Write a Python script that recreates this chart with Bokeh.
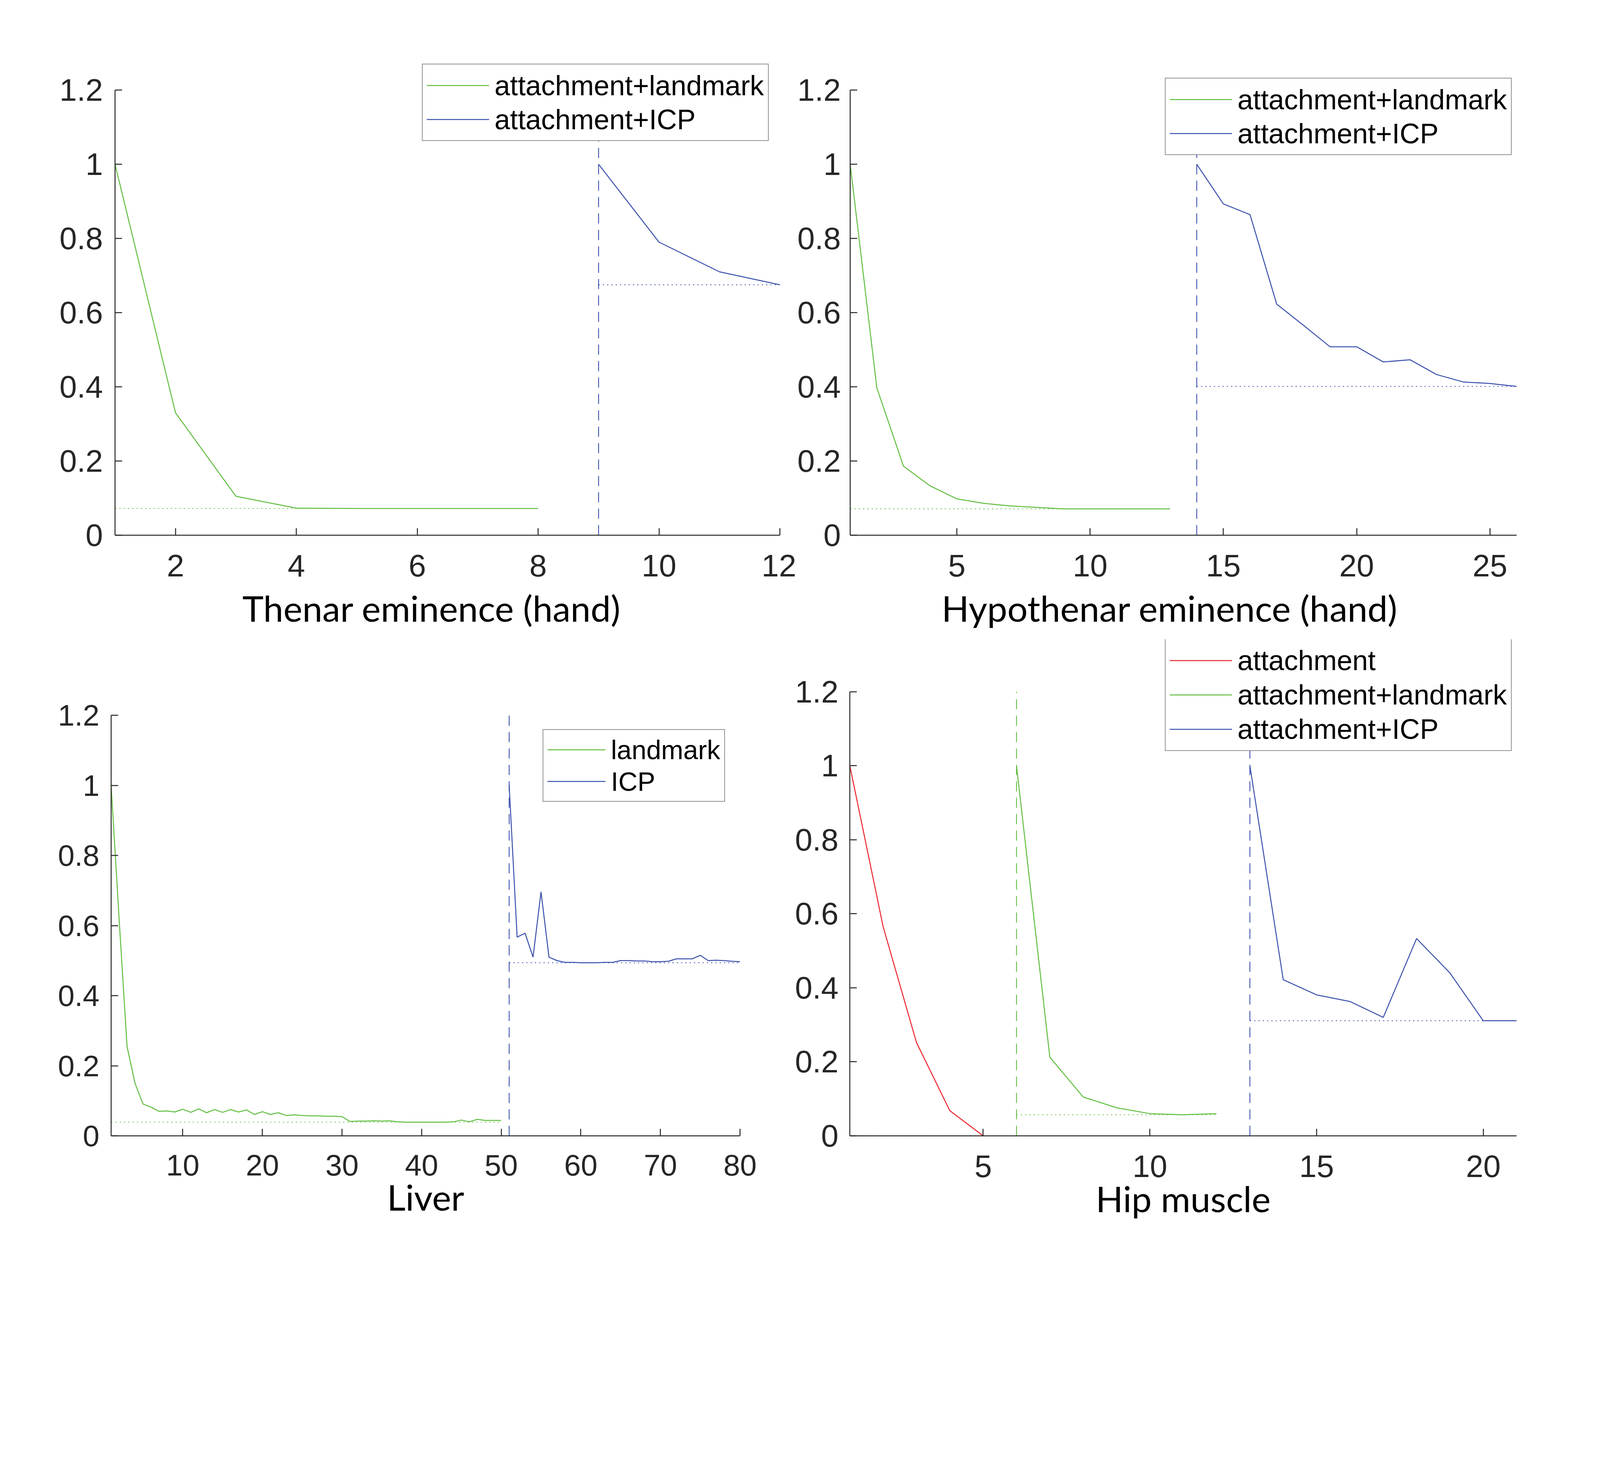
from bokeh.plotting import figure
from bokeh.models import Range1d, FixedTicker, Legend, LegendItem, Title
from bokeh.layouts import column, row
from bokeh.embed import file_html
from bokeh.resources import INLINE

GREEN = "#5fbd3e"
BLUE = "#3a4fad"
RED = "#ec2229"
AX = "#262626"

# ---------------- data ----------------
y_ticks = [0, 0.2, 0.4, 0.6, 0.8, 1, 1.2]
y_tick_labels = ["0", "0.2", "0.4", "0.6", "0.8", "1", "1.2"]

# Thenar eminence (hand)
thenar_x_ticks = [2, 4, 6, 8, 10, 12]
thenar_landmark_start = 1
thenar_landmark = [1.0, 0.33, 0.105, 0.073, 0.072, 0.072, 0.072, 0.072]
thenar_icp_start = 9
thenar_icp = [1.0, 0.79, 0.71, 0.675]

# Hypothenar eminence (hand)
hypo_x_ticks = [5, 10, 15, 20, 25]
hypo_landmark_start = 1
hypo_landmark = [1.0, 0.397, 0.186, 0.133, 0.098, 0.086, 0.079, 0.075,
                 0.071, 0.071, 0.071, 0.071, 0.071]
hypo_icp_start = 14
hypo_icp = [1.0, 0.893, 0.864, 0.623, 0.566, 0.508, 0.508, 0.467, 0.473,
            0.433, 0.413, 0.409, 0.401]

# Liver
liver_x_ticks = [10, 20, 30, 40, 50, 60, 70, 80]
liver_landmark_start = 1
liver_landmark = [1.0, 0.62, 0.255, 0.15, 0.091, 0.082, 0.070, 0.071, 0.068, 0.076,
                  0.067, 0.077, 0.066, 0.075, 0.067, 0.075, 0.068, 0.074, 0.061, 0.069,
                  0.061, 0.066, 0.058, 0.060, 0.058, 0.057, 0.057, 0.056, 0.056, 0.055,
                  0.041, 0.042, 0.042, 0.043, 0.042, 0.043, 0.040, 0.039, 0.039, 0.039,
                  0.039, 0.039, 0.039, 0.040, 0.045, 0.040, 0.047, 0.044, 0.044, 0.044]
liver_icp_start = 51
liver_icp = [1.0, 0.567, 0.578, 0.51, 0.696, 0.51, 0.50, 0.495, 0.495, 0.494,
             0.494, 0.494, 0.495, 0.495, 0.50, 0.50, 0.499, 0.499, 0.497, 0.497,
             0.498, 0.505, 0.505, 0.505, 0.515, 0.50, 0.501, 0.50, 0.498, 0.497]

# Hip muscle
hip_x_ticks = [5, 10, 15, 20]
hip_attach_start = 1
hip_attach = [1.0, 0.565, 0.252, 0.068, 0.0]
hip_landmark_start = 6
hip_landmark = [1.0, 0.2125, 0.105, 0.076, 0.060, 0.057, 0.060]
hip_icp_start = 13
hip_icp = [1.0, 0.422, 0.381, 0.363, 0.320, 0.533, 0.440, 0.311, 0.311]

# ---------------- layout helpers (screen pixels of the photo) ----------------
S = 1.1887          # photo pixels per CSS pixel
M = 0.0             # page offset in photo pixels
TITLE_FONT = "Lato"
TITLE_SIZE = "92px"


def c(v):
    return int(round((v - M) / S))


def make_fig(canvas, frame, x_end, x_ticks, title, tick_fs, y_standoff,
             x_standoff, title_standoff, title_offset=None):
    cx0, cy0, cx1, cy1 = canvas
    fx0, fx1, ftop, faxis_top, fbottom = frame
    W = c(cx1) - c(cx0)
    H = c(cy1) - c(cy0)
    mbl = c(fx0) - c(cx0)
    fw = c(fx1) - c(fx0)
    mbr = W - mbl - fw
    mbt = c(ftop) - c(cy0)
    fh = c(fbottom) - c(ftop)
    mbb = H - mbt - fh
    axis_h = c(fbottom) - c(faxis_top)
    y_top = y_ticks[-1] * fh / axis_h
    p = figure(width=W, height=H, x_range=Range1d(1, x_end),
               y_range=Range1d(0, y_top), output_backend="svg",
               toolbar_location=None, min_border_left=mbl, min_border_right=mbr,
               min_border_top=mbt, min_border_bottom=mbb)
    p.outline_line_color = None
    p.xgrid.visible = False
    p.ygrid.visible = False
    p.background_fill_color = "white"
    p.border_fill_color = "white"
    for ax in (p.xaxis[0], p.yaxis[0]):
        ax.axis_line_color = AX
        ax.axis_line_width = 2.5
        ax.major_tick_line_color = AX
        ax.major_tick_line_width = 2.5
        ax.major_tick_in = 18
        ax.major_tick_out = 0
        ax.minor_tick_line_color = None
        ax.major_label_text_font = "Liberation Sans"
        ax.major_label_text_font_size = f"{tick_fs}px"
        ax.major_label_text_color = AX
    p.yaxis.bounds = (y_ticks[0], y_ticks[-1])
    p.xaxis.ticker = FixedTicker(ticks=x_ticks)
    p.yaxis.ticker = FixedTicker(ticks=y_ticks)
    p.yaxis.major_label_overrides = dict(zip(y_ticks, y_tick_labels))
    p.yaxis.major_label_standoff = y_standoff
    p.xaxis.major_label_standoff = x_standoff
    if title_offset is None:
        p.xaxis.axis_label = title
        p.xaxis.axis_label_text_font = TITLE_FONT
        p.xaxis.axis_label_text_font_size = TITLE_SIZE
        p.xaxis.axis_label_text_font_style = "normal"
        p.xaxis.axis_label_text_color = "black"
        p.xaxis.axis_label_standoff = title_standoff
    else:
        t = Title(text=title, align="left", offset=title_offset,
                  standoff=title_standoff, text_font=TITLE_FONT,
                  text_font_size=TITLE_SIZE, text_font_style="normal",
                  text_color="black")
        p.add_layout(t, "below")
    return p


def add_series(p, start, values, color, with_marker_line):
    xs = list(range(start, start + len(values)))
    r = p.line(xs, values, line_color=color, line_width=2.5)
    m = min(values)
    p.line([xs[0], xs[-1]], [m, m], line_color=color, line_width=2.0,
           line_dash="3 8")
    if with_marker_line:
        p.segment(x0=[start], y0=[y_ticks[0]], x1=[start], y1=[y_ticks[-1]],
                  line_color=color, line_width=2.2, line_dash="26 16")
    return r


def add_legend(p, items, frame, box_left, box_bottom, fs, item_h, glyph_w):
    fx0, fbottom = frame[0], frame[4]
    loc = (c(box_left) - c(fx0), c(fbottom) - c(box_bottom))
    lg = Legend(items=[LegendItem(label=t, renderers=[r]) for t, r in items],
                location=loc, padding=10, spacing=0, margin=0,
                glyph_width=glyph_w, glyph_height=item_h, label_height=item_h,
                label_standoff=14, label_text_font="Liberation Sans",
                label_text_font_size=f"{fs}px", label_text_color="black",
                border_line_color=AX, border_line_width=2.1,
                background_fill_color="white", background_fill_alpha=1.0)
    p.add_layout(lg)


# canvases (x0, y0, x1, y1) and frames (left, right, top, y=1.2, y=0) in photo px
TOP_Y0, MID_Y, BOT_Y1 = 0, 1943, 3770
X_RIGHT = 4840

c1 = (0, TOP_Y0, 2422, MID_Y)
f1 = (349, 2373, 190, 273, 1629)
c2 = (2422, TOP_Y0, X_RIGHT, MID_Y)
f2 = (2584, 4615, 190, 273, 1629)
c3 = (0, MID_Y, 2415, BOT_Y1)
f3 = (337, 2251, 1946, 2176, 3457)
c4 = (2415, MID_Y, X_RIGHT, BOT_Y1)
f4 = (2584, 4614, 1946, 2105, 3460)

# ---- Thenar
p1 = make_fig(c1, f1, 12, thenar_x_ticks, "Thenar eminence (hand)", 80, 31, 50,
              41, title_offset=326)
r1a = add_series(p1, thenar_landmark_start, thenar_landmark, GREEN, False)
r1b = add_series(p1, thenar_icp_start, thenar_icp, BLUE, True)
add_legend(p1, [("attachment+landmark", r1a), ("attachment+ICP", r1b)],
           f1, 1284, 429, 71.5, 87, 160)

# ---- Hypothenar
p2 = make_fig(c2, f2, 26, hypo_x_ticks, "Hypothenar eminence (hand)", 80, 24, 50,
              41, title_offset=234)
r2a = add_series(p2, hypo_landmark_start, hypo_landmark, GREEN, False)
r2b = add_series(p2, hypo_icp_start, hypo_icp, BLUE, True)
add_legend(p2, [("attachment+landmark", r2a), ("attachment+ICP", r2b)],
           f2, 3542, 472, 71.5, 87, 160)

# ---- Liver
p3 = make_fig(c3, f3, 80, liver_x_ticks, "Liver", 76.5, 30, 48, -4)
r3a = add_series(p3, liver_landmark_start, liver_landmark, GREEN, False)
r3b = add_series(p3, liver_icp_start, liver_icp, BLUE, True)
add_legend(p3, [("landmark", r3a), ("ICP", r3b)], f3, 1651, 2440, 68, 81, 149)

# ---- Hip muscle
p4 = make_fig(c4, f4, 21, hip_x_ticks, "Hip muscle", 80, 29, 50, -4)
r4a = add_series(p4, hip_attach_start, hip_attach, RED, False)
r4b = add_series(p4, hip_landmark_start, hip_landmark, GREEN, True)
r4c = add_series(p4, hip_icp_start, hip_icp, BLUE, True)
add_legend(p4, [("attachment", r4a), ("attachment+landmark", r4b),
                ("attachment+ICP", r4c)], f4, 3544, 2289, 71.5, 88, 160)

layout = column(row(p1, p2), row(p3, p4))
open("out.html", "w").write(file_html(layout, INLINE))
